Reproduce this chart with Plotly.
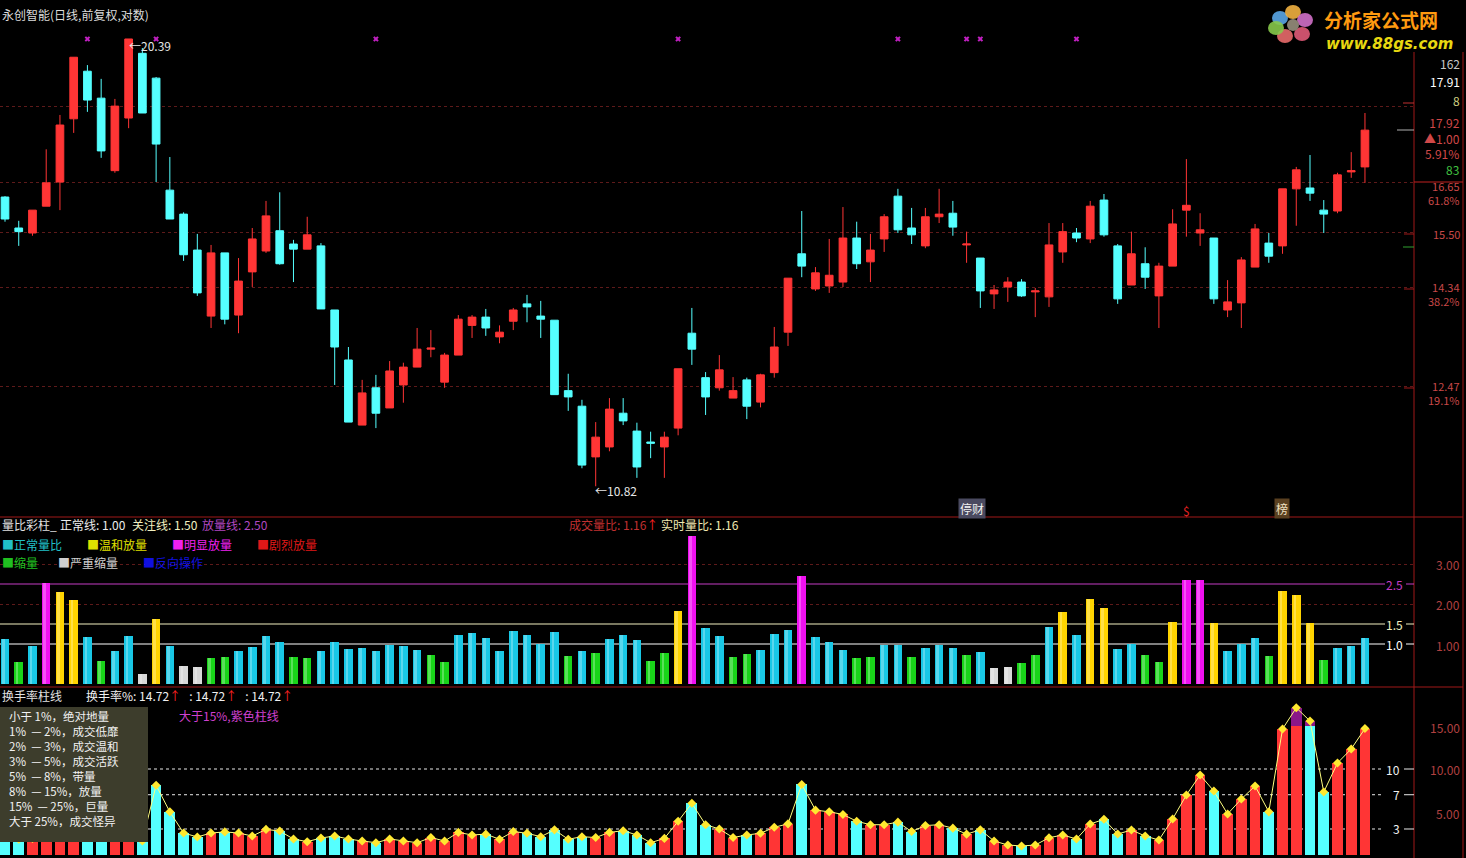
import plotly.graph_objects as go

# ---------------- data ----------------
open_ = [16.30, 15.60, 15.49, 16.09, 16.65, 18.21, 19.48, 18.75, 16.92, 18.23,
         19.98, 19.29, 16.46, 15.91, 15.12, 13.77, 15.06, 13.79, 14.66, 15.10,
         15.54, 15.25, 15.14, 15.21, 13.89, 12.94, 11.80, 12.44, 12.09, 12.49,
         12.81, 13.14, 12.54, 13.03, 13.59, 13.75, 13.37, 13.67, 14.01, 13.77,
         13.69, 12.39, 12.12, 11.28, 11.44, 12.00, 11.70, 11.52, 11.44, 11.75,
         13.44, 12.62, 12.44, 12.26, 12.58, 12.19, 12.71, 13.46, 15.04, 14.31,
         14.37, 14.45, 15.38, 14.87, 15.36, 16.32, 15.60, 15.21, 15.85, 15.93,
         15.23, 14.95, 14.21, 14.35, 14.45, 14.25, 14.15, 15.08, 15.49, 15.36,
         16.23, 15.21, 14.39, 14.83, 14.17, 14.78, 16.00, 15.49, 15.38, 13.89,
         14.03, 14.76, 15.27, 15.21, 16.49, 16.51, 16.00, 15.98, 16.89, 17.01]
high = [16.32, 15.76, 16.00, 17.44, 18.31, 19.87, 19.65, 19.27, 18.73, 20.39,
        20.13, 19.32, 17.25, 15.95, 15.47, 15.23, 15.06, 14.95, 15.60, 16.21,
        16.41, 15.34, 15.85, 15.27, 13.89, 13.18, 12.58, 12.67, 12.92, 12.89,
        13.54, 13.50, 13.07, 13.79, 13.79, 13.91, 13.59, 13.93, 14.19, 14.07,
        13.69, 12.69, 12.23, 11.85, 12.26, 12.26, 11.84, 11.69, 11.69, 12.78,
        13.93, 12.72, 13.03, 12.63, 12.62, 12.69, 13.56, 14.53, 15.98, 14.76,
        15.36, 16.07, 15.74, 15.47, 15.91, 16.49, 16.05, 16.05, 16.49, 16.21,
        15.52, 14.95, 14.39, 14.55, 14.51, 14.33, 15.71, 15.71, 15.60, 16.21,
        16.37, 15.25, 15.52, 15.18, 14.85, 16.02, 17.20, 15.93, 15.38, 14.49,
        14.97, 15.69, 15.49, 16.49, 17.01, 17.30, 16.23, 16.87, 17.37, 18.36]
low = [15.74, 15.21, 15.43, 16.09, 16.00, 17.85, 18.39, 17.23, 16.87, 17.97,
       18.36, 16.65, 15.80, 14.89, 14.17, 13.54, 13.61, 13.44, 14.35, 15.06,
       14.81, 14.45, 15.14, 13.91, 12.49, 11.85, 11.80, 11.75, 12.09, 12.18,
       12.81, 12.99, 12.44, 13.03, 13.35, 13.39, 13.25, 13.50, 13.65, 13.35,
       12.32, 12.04, 11.10, 10.82, 11.37, 11.80, 10.95, 11.26, 10.95, 11.63,
       12.85, 11.97, 12.39, 12.26, 11.90, 12.10, 12.62, 13.20, 14.55, 14.27,
       14.23, 14.35, 14.72, 14.45, 15.08, 15.49, 15.25, 15.16, 15.71, 15.43,
       14.85, 13.93, 13.91, 14.05, 14.15, 13.75, 13.95, 14.85, 15.29, 15.27,
       15.41, 14.01, 14.39, 14.31, 13.54, 14.78, 15.41, 15.21, 14.01, 13.75,
       13.54, 14.76, 14.85, 15.04, 15.65, 16.21, 15.49, 15.93, 16.75, 16.63]
close = [15.80, 15.52, 16.00, 16.63, 18.05, 19.87, 18.70, 17.40, 18.54, 20.39,
         18.36, 17.57, 15.80, 15.02, 14.23, 15.06, 13.71, 14.47, 15.36, 15.87,
         14.83, 15.14, 15.45, 13.91, 13.18, 11.85, 12.35, 12.00, 12.74, 12.81,
         13.14, 13.16, 13.03, 13.71, 13.75, 13.54, 13.46, 13.89, 13.95, 13.71,
         12.32, 12.28, 11.15, 11.60, 12.07, 11.87, 11.12, 11.50, 11.60, 12.78,
         13.14, 12.28, 12.76, 12.39, 12.12, 12.67, 13.18, 14.53, 14.78, 14.64,
         14.59, 15.38, 14.83, 15.12, 15.85, 15.56, 15.45, 15.85, 15.91, 15.62,
         15.25, 14.27, 14.29, 14.45, 14.17, 14.27, 15.23, 15.52, 15.38, 16.09,
         15.45, 14.11, 15.04, 14.55, 14.78, 15.69, 16.11, 15.56, 14.11, 14.05,
         14.91, 15.58, 14.99, 16.49, 16.94, 16.39, 15.91, 16.82, 16.92, 17.92]

# volume ratio (量比)
vol_ratio = [1.12, 0.55, 0.95, 2.52, 2.30, 2.10, 1.17, 0.57, 0.82, 1.20,
             0.25, 1.62, 0.95, 0.45, 0.42, 0.65, 0.67, 0.82, 0.92, 1.20,
             1.05, 0.67, 0.65, 0.82, 1.05, 0.87, 0.90, 0.82, 0.97, 0.95,
             0.85, 0.72, 0.55, 1.22, 1.27, 1.15, 0.82, 1.32, 1.22, 1.00,
             1.30, 0.70, 0.82, 0.78, 1.12, 1.22, 1.10, 0.57, 0.77, 1.82,
             3.70, 1.40, 1.20, 0.67, 0.75, 0.85, 1.25, 1.35, 2.70, 1.17,
             1.05, 0.85, 0.65, 0.67, 0.97, 0.97, 0.67, 0.90, 0.97, 0.90,
             0.72, 0.80, 0.40, 0.42, 0.52, 0.72, 1.42, 1.80, 1.22, 2.12,
             1.90, 0.87, 1.00, 0.72, 0.55, 1.55, 2.60, 2.60, 1.52, 0.82,
             1.00, 1.15, 0.70, 2.32, 2.22, 1.52, 0.60, 0.90, 0.95, 1.16]

# turnover rate % (换手率)
turnover = [2.2, 1.8, 1.9, 3.0, 4.6, 6.0, 4.9, 3.8, 3.3, 5.2,
            1.6, 8.1, 5.0, 2.53, 2.07, 2.53, 2.66, 2.53, 2.18, 2.95,
            2.76, 1.83, 1.52, 1.95, 2.18, 1.83, 1.60, 1.40, 1.83, 1.60,
            1.40, 2.0, 1.6, 2.6, 2.3, 2.4, 1.8, 2.7, 2.5, 2.1,
            2.9, 1.8, 2.1, 2.0, 2.6, 2.8, 2.3, 1.4, 1.9, 3.9,
            6.0, 3.5, 3.0, 2.0, 2.3, 2.5, 3.2, 3.6, 8.2, 5.2,
            5.0, 4.7, 3.9, 3.5, 3.5, 3.8, 2.7, 3.4, 3.5, 3.1,
            2.4, 2.9, 1.6, 1.13, 1.02, 1.13, 1.98, 2.30, 1.83, 3.58,
            4.13, 2.41, 2.88, 2.18, 1.71, 4.17, 6.97, 9.30, 7.43, 4.75,
            6.50, 8.02, 5.00, 14.67, 17.15, 15.60, 7.32, 10.70, 12.34, 14.72]

signal_idx = [6, 11, 27, 49, 65, 70, 71, 78]      # purple x markers at top
signal_level = 20.39
price_grid = [18.54, 16.65, 15.50, 14.34, 12.47]
price_labels = [("16.65<br>61.8%", 193), ("15.50", 234), ("14.34<br>38.2%", 294),
                ("12.47<br>19.1%", 393)]
ratio_levels = [(1.0, "1.0", "#ffffff"), (1.5, "1.5", "#f2f0c0"), (2.5, "2.5", "#c43cc4")]
turn_levels = [10, 7, 3]
box_lines = ["小于 1%，绝对地量", "1%  — 2%，成交低靡", "2%  — 3%，成交温和",
             "3%  — 5%，成交活跃", "5%  — 8%，带量", "8%  — 15%，放量",
             "15%  — 25%，巨量", "大于 25%，成交怪异"]

# ---------------- derived styles ----------------
n = len(close)
idx = list(range(n))
RED = "#ff3535"
CYAN = "#55ffff"


def ratio_color(v):
    if v < 0.5:
        return "#d8d8d8"
    if v < 0.8:
        return "#19d419"
    if v < 1.5:
        return "#19c8e6"
    if v < 2.5:
        return "#ffd400"
    return "#f010f0"


ratio_colors = [ratio_color(v) for v in vol_ratio]
turn_colors = [RED if c >= o else CYAN for o, c in zip(open_, close)]
purple_part = [v - 15 if v > 15 else None for v in turnover]

W, H = 1466, 858
PX = 1414 / W
FONT = "Noto Sans CJK SC"

fig = go.Figure()

fig.add_trace(go.Candlestick(
    x=idx, open=open_, high=high, low=low, close=close,
    increasing=dict(line=dict(color=RED, width=1), fillcolor=RED),
    decreasing=dict(line=dict(color=CYAN, width=1), fillcolor=CYAN),
    whiskerwidth=0, xaxis="x", yaxis="y", hoverinfo="skip", showlegend=False))

fig.add_trace(go.Scatter(
    x=signal_idx, y=[signal_level] * len(signal_idx), mode="markers",
    marker=dict(symbol="x", size=5, color="#c020c0"),
    xaxis="x", yaxis="y", hoverinfo="skip", showlegend=False))

fig.add_trace(go.Bar(
    x=idx, y=vol_ratio, marker=dict(color=ratio_colors, line=dict(width=0)),
    width=0.62, xaxis="x2", yaxis="y2", hoverinfo="skip", showlegend=False))
fig.add_trace(go.Bar(
    x=idx, y=vol_ratio, marker=dict(color="rgba(255,255,255,0.28)", line=dict(width=0)),
    width=0.18, offset=-0.2, xaxis="x2", yaxis="y2", hoverinfo="skip", showlegend=False))

fig.add_trace(go.Bar(
    x=idx, y=turnover, marker=dict(color=turn_colors, line=dict(width=0)),
    width=0.78, xaxis="x3", yaxis="y3", hoverinfo="skip", showlegend=False))
fig.add_trace(go.Bar(
    x=idx, y=purple_part, base=15, marker=dict(color="#8a1688", line=dict(width=0)),
    width=0.78, xaxis="x3", yaxis="y3", hoverinfo="skip", showlegend=False))
fig.add_trace(go.Scatter(
    x=idx, y=turnover, mode="lines+markers",
    line=dict(color="#ffff80", width=1),
    marker=dict(symbol="diamond", size=7, color="#ffe830"),
    xaxis="x3", yaxis="y3", hoverinfo="skip", showlegend=False))

xr = [-0.364, 102.57]
xcommon = dict(domain=[0, PX], range=xr, showgrid=False, zeroline=False,
               showticklabels=False, ticks="", showline=False, fixedrange=True)


def py(p):
    return 1 - p / H


fig.update_layout(
    width=W, height=H, autosize=False,
    margin=dict(l=0, r=0, t=0, b=0),
    paper_bgcolor="#000000", plot_bgcolor="#000000",
    font=dict(family=FONT, size=12, color="#e0e0e0"),
    boxgap=0.2, bargap=0, barmode="overlay", showlegend=False,
    xaxis=dict(anchor="y", rangeslider=dict(visible=False), **xcommon),
    xaxis2=dict(anchor="y2", matches="x", **xcommon),
    xaxis3=dict(anchor="y3", matches="x", **xcommon),
    yaxis=dict(type="log", range=[1.01533, 1.3334], domain=[py(517), 1],
               tickvals=price_grid, showticklabels=False, ticks="",
               showgrid=True, gridcolor="#5e1a1a", griddash="dot", gridwidth=1,
               zeroline=False, fixedrange=True),
    yaxis2=dict(range=[-0.05, 4.175], domain=[py(686), py(517)],
                tickvals=[2, 3], showticklabels=False, ticks="",
                showgrid=True, gridcolor="#5e1a1a", griddash="dot",
                zeroline=False, fixedrange=True),
    yaxis3=dict(range=[-0.385, 19.57], domain=[0, py(687)],
                showticklabels=False, ticks="", showgrid=False,
                zeroline=False, fixedrange=True),
)

shapes = []
BORDER = "#a01818"
# panel borders
shapes.append(dict(type="line", xref="paper", yref="paper", x0=0, x1=1463 / W,
                   y0=py(517), y1=py(517), line=dict(color=BORDER, width=1)))
shapes.append(dict(type="line", xref="paper", yref="paper", x0=0, x1=1463 / W,
                   y0=py(687), y1=py(687), line=dict(color=BORDER, width=1)))
shapes.append(dict(type="line", xref="paper", yref="paper", x0=PX, x1=PX,
                   y0=0, y1=py(52), line=dict(color=BORDER, width=1)))
shapes.append(dict(type="line", xref="paper", yref="paper", x0=1463 / W, x1=1463 / W,
                   y0=0, y1=py(52), line=dict(color=BORDER, width=1)))
# right-edge ticks in price panel
for yy in [234, 289, 388]:
    shapes.append(dict(type="line", xref="paper", yref="paper", x0=1404 / W, x1=PX,
                       y0=py(yy), y1=py(yy), line=dict(color=BORDER, width=1)))
shapes.append(dict(type="line", xref="paper", yref="paper", x0=1403 / W, x1=PX,
                   y0=py(103), y1=py(103), line=dict(color="#c03030", width=1)))
shapes.append(dict(type="line", xref="paper", yref="paper", x0=1397 / W, x1=PX,
                   y0=py(130), y1=py(130), line=dict(color="#b0b0b0", width=1)))
shapes.append(dict(type="line", xref="paper", yref="paper", x0=1403 / W, x1=PX,
                   y0=py(247), y1=py(247), line=dict(color="#30a030", width=1)))
shapes.append(dict(type="line", xref="paper", yref="paper", x0=PX, x1=1463 / W,
                   y0=py(182), y1=py(182), line=dict(color="#c02020", width=1)))
# ratio reference lines
for val, lab, col in ratio_levels:
    shapes.append(dict(type="line", xref="paper", yref="y2", x0=0, x1=1385 / W,
                       y0=val, y1=val, layer="below", line=dict(color=col, width=1)))
    shapes.append(dict(type="line", xref="paper", yref="y2", x0=1406 / W, x1=PX,
                       y0=val, y1=val, line=dict(color=col, width=1)))
# turnover dotted levels
for val in turn_levels:
    shapes.append(dict(type="line", xref="paper", yref="y3", x0=148 / W, x1=1384 / W,
                       y0=val, y1=val, layer="below",
                       line=dict(color="#e8e8e8", width=1, dash="dot")))
    shapes.append(dict(type="line", xref="paper", yref="y3", x0=1404 / W, x1=PX,
                       y0=val, y1=val, line=dict(color="#e8e8e8", width=1)))
# legend box
shapes.append(dict(type="rect", xref="paper", yref="paper", x0=0, x1=148 / W,
                   y0=py(842), y1=py(707), fillcolor="#3d3d2c", line=dict(width=0),
                   layer="above"))
# logo flower
petals = [((1280, 18), "#5aa6e6"), ((1293, 12), "#f0b040"), ((1305, 20), "#d070c8"),
          ((1302, 34), "#e05a78"), ((1285, 36), "#e86a6a"), ((1276, 28), "#86c84a")]
for (cx, cy), col in petals:
    shapes.append(dict(type="circle", xref="paper", yref="paper",
                       x0=(cx - 8) / W, x1=(cx + 8) / W, y0=py(cy + 7), y1=py(cy - 7),
                       fillcolor=col, line=dict(width=0), opacity=0.9))
shapes.append(dict(type="circle", xref="paper", yref="paper",
                   x0=1287 / W, x1=1299 / W, y0=py(31), y1=py(19),
                   fillcolor="#888070", line=dict(width=0)))

annotations = []


def ann(text, x, y, color="#e0e0e0", size=12, xanchor="left", **kw):
    annotations.append(dict(text=text, x=x / W, y=py(y), xref="paper", yref="paper",
                            xanchor=xanchor, yanchor="middle", showarrow=False,
                            font=dict(color=color, size=size, family=kw.pop("family", FONT)),
                            **kw))


UP = "<span style='color:#ff2020'>↑</span>"
ann("永创智能(日线,前复权,对数)", 0, 14, "#dcdcdc")
ann("←20.39", 127, 45, "#e6e6e6")
ann("←10.82", 593, 490, "#e6e6e6")

# right info column
R = 1462
ann("162", R, 63, "#c8c8c8", xanchor="right")
ann("17.91", R, 82, "#ffffff", xanchor="right")
ann("8", R, 100, "#d0d080", xanchor="right")
ann("17.92<br>▲1.00<br>5.91%<br><span style='color:#40c040'>83</span>",
    R, 146, "#d04848", xanchor="right", align="right")
for t, yy in price_labels:
    ann(t, R, yy, "#c84848", size=11, xanchor="right", align="right")

# bottom of price panel tags
ann("停财", 958, 508, "#f0f0f0", bgcolor="#4a4a60")
ann("$", 1181, 510, "#e02020")
ann("榜", 1274, 508, "#f0e0c0", bgcolor="#5a4020")

# logo text
ann("<b>分析家公式网</b>", 1322, 20, "#ff9a10", size=19)
ann("<b><i>www.88gs.com</i></b>", 1324, 44, "#e8d810", size=15, family="DejaVu Sans")

# middle panel header/legend
ann("量比彩柱_", 0, 524, "#e0e0e0")
ann("正常线: 1.00", 58, 524, "#ececec")
ann("关注线: 1.50", 130, 524, "#f2f0c0")
ann("放量线: 2.50", 200, 524, "#b048c0")
ann("成交量比: 1.16" + UP, 567, 524, "#c03030")
ann("实时量比: 1.16", 659, 524, "#f2e8b0")
ann("■正常量比", 0, 544, "#20c0c8")
ann("■温和放量", 85, 544, "#e0e000")
ann("■明显放量", 170, 544, "#f020f0")
ann("■剧烈放量", 255, 544, "#e01818")
ann("■缩量", 0, 562, "#20c020")
ann("■严重缩量", 56, 562, "#d0d0d0")
ann("■反向操作", 141, 562, "#1010e0")
for val, lab, col in ratio_levels:
    ann(lab, 1405, 684 - val * 40, col, xanchor="right")
for lab, yy in [("3.00", 564), ("2.00", 604), ("1.00", 645)]:
    ann(lab, R, yy, "#b04040", xanchor="right")

# bottom panel header
ann("换手率柱线", 0, 695, "#e0e0e0")
ann("换手率%: 14.72" + UP + "   : 14.72" + UP + "   : 14.72" + UP, 84, 695, "#f0f0f0")
ann("大于15%,紫色柱线", 177, 715, "#d040d0")
ann("<br>".join(box_lines), 7, 768, "#f2f2f2", size=11.5, align="left")
for val in turn_levels:
    ann(str(val), 1402, 854.7 - val * 8.57, "#f0f0f0", xanchor="right")
for lab, yy in [("15.00", 727), ("10.00", 769), ("5.00", 813)]:
    ann(lab, R, yy, "#b04040", xanchor="right")

fig.update_layout(shapes=shapes, annotations=annotations)

fig.write_html("out.html", config={"displayModeBar": False},
               post_script="document.body.style.margin='0px';document.body.style.overflow='hidden';")
